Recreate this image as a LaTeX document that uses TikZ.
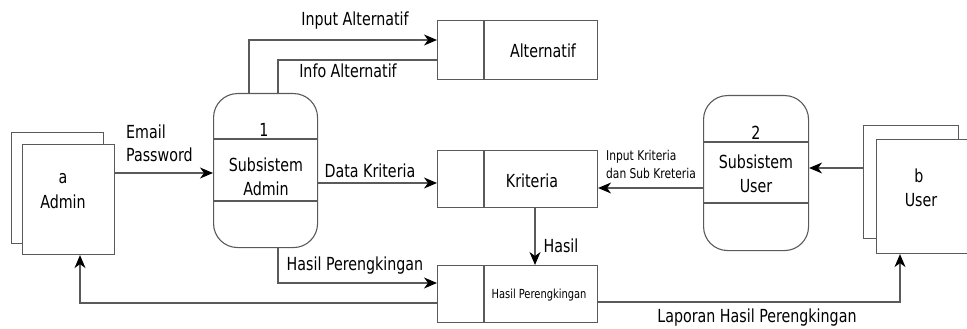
\documentclass[tikz,border=0pt]{standalone}
\usepackage{fontspec}
\setmainfont[FakeStretch=0.88]{DejaVu Sans Condensed}
\usetikzlibrary{arrows.meta}
\definecolor{linegray}{HTML}{5A5A5A}
\tikzset{
  ln/.style={draw=linegray, line width=1.1pt},
  flow/.style={ln, -{Stealth[length=13pt, width=11pt, inset=4pt, color=black]}},
  box/.style={ln, fill=white, inner sep=0pt, anchor=north west},
  proc/.style={box, rounded corners=24pt},
  txt/.style={inner sep=0pt, text=black, font=\fontsize{18}{19}\selectfont},
  smalltxt/.style={inner sep=0pt, text=black, font=\fontsize{13.5}{14}\selectfont},
  tinytxt/.style={inner sep=0pt, text=black, font=\fontsize{12.5}{13}\selectfont},
}
\begin{document}
\begin{tikzpicture}[x=1pt, y=-1pt]
\clip (0,0) rectangle (967,329);
\fill[white] (0,0) rectangle (967,329);

% Admin entity
\node[box, minimum width=92pt, minimum height=111pt] (adminB) at (11,132) {};
\node[box, minimum width=92pt, minimum height=110pt] (admin) at (22,144) {};
\node[txt] (admina) at (63,179) {a};
\node[txt] (adminl) at (63,202) {Admin};

% Process 1
\node[proc, minimum width=104pt, minimum height=154pt] (p1) at (213,93) {};
\draw[ln] (p1.west |- 0,139) -- (p1.east |- 0,139);
\draw[ln] (p1.west |- 0,201) -- (p1.east |- 0,201);
\node[txt] (p1n) at (264,130) {1};
\node[txt] (p1a) at (266,165) {Subsistem};
\node[txt] (p1b) at (266,189) {Admin};

% Process 2
\node[proc, minimum width=105pt, minimum height=155pt] (p2) at (703,95) {};
\draw[ln] (p2.west |- 0,142) -- (p2.east |- 0,142);
\draw[ln] (p2.west |- 0,203) -- (p2.east |- 0,203);
\node[txt] (p2n) at (756,133) {2};
\node[txt] (p2a) at (756,162) {Subsistem};
\node[txt] (p2b) at (756,186) {User};

% User entity
\node[box, minimum width=95pt, minimum height=113pt] (userB) at (863,125) {};
\node[box, minimum width=100pt, minimum height=114pt] (user) at (876,139) {};
\node[txt] (userb) at (919,176) {b};
\node[txt] (userl) at (921,200) {User};

% Data stores
\node[box, minimum width=160pt, minimum height=59pt] (alt) at (437,20) {};
\draw[ln] (484,0 |- alt.north) -- (484,0 |- alt.south);
\node[txt] (altl) at (543,51) {Alternatif};

\node[box, minimum width=160pt, minimum height=57pt] (krit) at (437,150) {};
\draw[ln] (484,0 |- krit.north) -- (484,0 |- krit.south);
\node[txt] (kritl) at (532,181) {Kriteria};

\node[box, minimum width=160pt, minimum height=57pt] (hasil) at (437,265) {};
\draw[ln] (484,0 |- hasil.north) -- (484,0 |- hasil.south);
\node[tinytxt] (hasill) at (539,295) {Hasil Perengkingan};

% Flows
\draw[flow] (admin.east |- 0,173) -- (p1.west |- 0,173);
\node[txt, anchor=west] (em) at (126,132) {Email};
\node[txt, anchor=west] (pw) at (126,155) {Password};

\draw[flow] (249,0 |- p1.north) -- (249,40) -- (alt.west |- 0,40);
\node[txt] (ia) at (355,21) {Input Alternatif};

\draw[ln] (alt.west |- 0,60) -- (278,60) -- (278,0 |- p1.north);
\node[txt] (infa) at (348,71) {Info Alternatif};

\draw[flow] (p1.east |- 0,183) -- (krit.west |- 0,183);
\node[txt] (dk) at (370,171) {Data Kriteria};

\draw[flow] (p2.west |- 0,188) -- (krit.east |- 0,188);
\node[smalltxt, anchor=west] (ik1) at (606,157) {Input Kriteria};
\node[smalltxt, anchor=west] (ik2) at (606,173) {dan Sub Kreteria};

\draw[flow] (userB.west |- 0,168) -- (p2.east |- 0,168);

\draw[flow] (535,0 |- krit.south) -- (535,0 |- hasil.north);
\node[txt] (hs) at (561,246) {Hasil};

\draw[flow] (278,0 |- p1.south) -- (278,283) -- (hasil.west |- 0,283);
\node[txt] (hp) at (355,266) {Hasil Perengkingan};

\draw[flow] (hasil.west |- 0,303) -- (80,303) -- (80,0 |- admin.south);

\draw[flow] (hasil.east |- 0,302) -- (900,302) -- (900,0 |- user.south);
\node[txt] (lap) at (757,318) {Laporan Hasil Perengkingan};
\end{tikzpicture}
\end{document}
